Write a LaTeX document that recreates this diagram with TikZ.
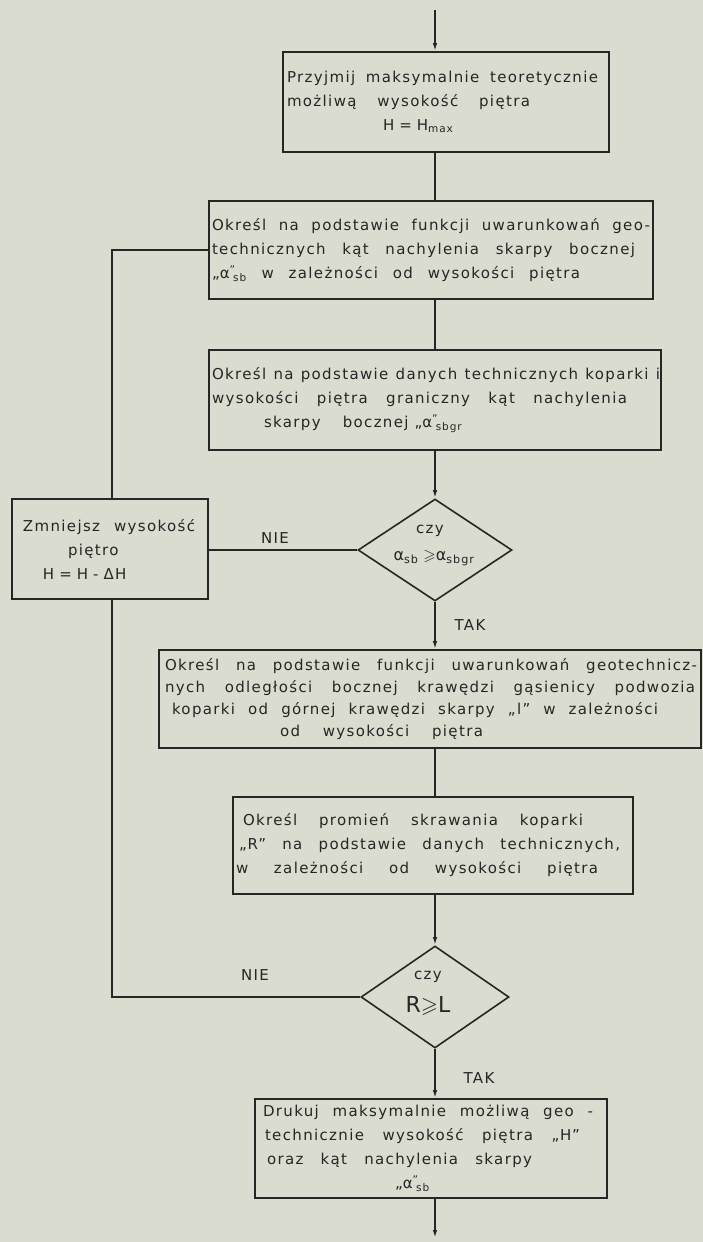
\documentclass[tikz,border=0pt]{standalone}
\usepackage{amsmath,amssymb}
\usepackage{fontspec}
\setmainfont{DejaVu Sans}[LetterSpace=9]
\usetikzlibrary{arrows.meta,shapes.geometric}
\definecolor{paper}{RGB}{217,220,207}
\definecolor{ink}{RGB}{38,38,38}
\newcommand{\alq}[1]{\text{α}$^{\text{”}}\!{}_{\text{#1}}$}
\newcommand{\lin}[3]{\hspace*{#1pt}\hbox to #2pt{\spaceskip=0.2em plus 1fil minus 0.15em\relax #3}}
\newcommand{\nat}[2]{\hspace*{#1pt}\mbox{#2}}
\begin{document}
\begin{tikzpicture}[x=1pt,y=-1pt,
  every path/.style={draw=ink,line width=1.6pt},
  box/.style={draw=ink,line width=1.6pt,rectangle,inner xsep=3pt,inner ysep=0pt,
    align=left,text=ink,font=\fontsize{15}{24}\selectfont},
  dec/.style={draw=ink,line width=1.6pt,diamond,inner sep=0pt,
    minimum width=#1,minimum height=102pt},
  txt/.style={text=ink,inner sep=0pt,font=\fontsize{15}{18}\selectfont},
  arr/.style={-{Latex[length=8pt,width=4.5pt]}}]
\useasboundingbox[fill=paper,draw=none] (0,0) rectangle (703,1242);

\coordinate (sp) at (435,0);
\coordinate (lx) at (112,0);
\coordinate (top) at (435,10);
\coordinate (end) at (435,1238);

\node[box,text width=320pt,minimum width=326pt,minimum height=100pt] (b1) at (446,102)
 {\lin{1}{311}{Przyjmij maksymalnie teoretycznie}\\
  \lin{1}{243}{możliwą wysokość piętra}\\
  \nat{97}{H = H\textsubscript{max}}};

\node[box,text width=438pt,minimum width=444pt,minimum height=98pt] (b2) at (431,250)
 {\lin{0}{438}{Określ na podstawie funkcji uwarunkowań geo-}\\
  \lin{0}{423}{technicznych kąt nachylenia skarpy bocznej}\\
  \lin{0}{368}{„\alq{sb} w zależności od wysokości piętra}};

\node[box,text width=446pt,minimum width=452pt,minimum height=100pt] (b3) at (435,400)
 {\lin{0}{448}{Określ na podstawie danych technicznych koparki i}\\
  \lin{0}{415}{wysokości piętra graniczny kąt nachylenia}\\
  \nat{52}{skarpy\hspace{22pt}bocznej\hspace{6pt}„\alq{sbgr}}};

\node[dec=154pt] (d1) at (435,550) {};
\node[txt] (d1a) at (430,531) {czy};
\node[txt,font=\fontsize{16}{18}\selectfont] (d1b) at (434,558)
 {\text{α}$_{\text{sb}}\geqslant$\text{α}$_{\text{sbgr}}$};

\node[box,text width=190pt,minimum width=196pt,minimum height=100pt] (z) at (110,549)
 {\lin{8}{172}{Zmniejsz wysokość}\\
  \nat{53}{piętro}\\
  \nat{28}{H = H - ΔH}};

\node[box,font=\fontsize{15}{22}\selectfont,text width=536pt,minimum width=542pt,minimum height=98pt] (b4) at (430,699)
 {\lin{3}{532}{Określ na podstawie funkcji uwarunkowań geotechnicz-}\\
  \lin{3}{530}{nych odległości bocznej krawędzi gąsienicy podwozia}\\
  \lin{10}{486}{koparki od górnej krawędzi skarpy „l” w zależności}\\
  \lin{118}{203}{od wysokości piętra}};

\node[box,text width=394pt,minimum width=400pt,minimum height=97pt] (b5) at (433,845.5)
 {\lin{7}{340}{Określ promień skrawania koparki}\\
  \lin{3}{381}{„R” na podstawie danych technicznych,}\\
  \lin{0}{362}{w zależności od wysokości piętra}};

\node[dec=148pt] (d2) at (435,997) {};
\node[txt] (d2a) at (428,977) {czy};
\node[txt,font=\fontsize{22}{24}\selectfont] (d2b) at (428,1006) {R$\geqslant$L};

\node[box,text width=346pt,minimum width=352pt,minimum height=99pt] (b6) at (431,1148.5)
 {\lin{5}{330}{Drukuj maksymalnie możliwą geo -}\\
  \lin{7}{315}{technicznie wysokość piętra „H”}\\
  \lin{9}{265}{oraz kąt nachylenia skarpy}\\
  \nat{137}{„\alq{sb}}};

\node[txt] (nie1) at (275,538) {NIE};
\node[txt] (tak1) at (470,625) {TAK};
\node[txt] (nie2) at (255,975) {NIE};
\node[txt] (tak2) at (479,1078) {TAK};

\draw[arr] (top) -- (b1.north -| top);
\draw (b1.south -| sp) -- (b2.north -| sp);
\draw (b2.south -| sp) -- (b3.north -| sp);
\draw[arr] (b3.south -| sp) -- (d1.north);
\draw[arr] (d1.south) -- (b4.north -| sp);
\draw (b4.south -| sp) -- (b5.north -| sp);
\draw[arr] (b5.south -| sp) -- (d2.north);
\draw[arr] (d2.south) -- (b6.north -| sp);
\draw[arr] (b6.south -| sp) -- (end);

\draw (d1.west) -- (z.east |- d1.west);
\draw (z.north -| lx) |- (b2.west);
\draw (d2.west) -| (z.south -| lx);
\end{tikzpicture}
\end{document}
